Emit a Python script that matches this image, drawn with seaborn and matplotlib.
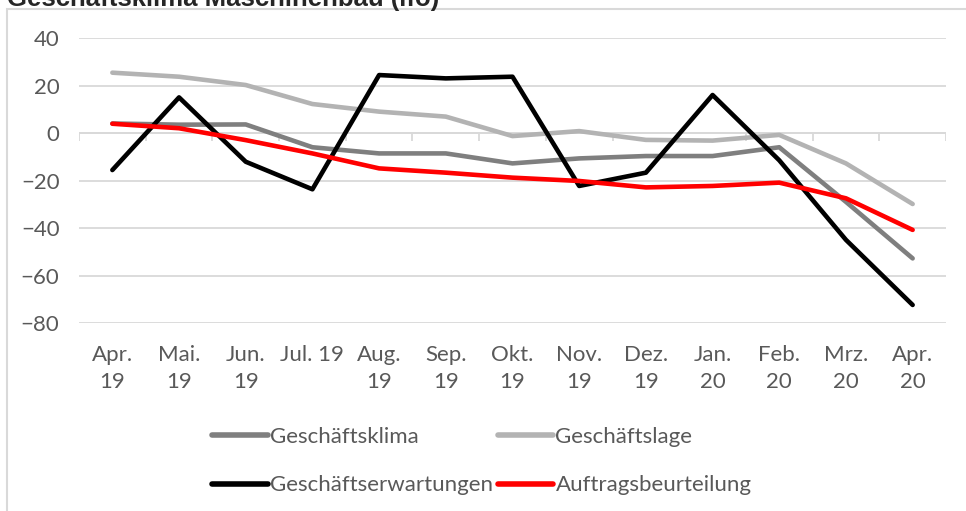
import matplotlib
matplotlib.use("Agg")
import matplotlib.pyplot as plt
import seaborn as sns
import pandas as pd
import numpy as np
from matplotlib.patches import Rectangle
from matplotlib.lines import Line2D

categories = ["Apr.\n19", "Mai.\n19", "Jun.\n19", "Jul. 19", "Aug.\n19", "Sep.\n19", "Okt.\n19",
              "Nov.\n19", "Dez.\n19", "Jan.\n20", "Feb.\n20", "Mrz.\n20", "Apr.\n20"]
klima = [4.0, 3.5, 3.6, -6.0, -8.6, -8.6, -12.8, -10.7, -9.7, -9.7, -6.0, -29.0, -52.8]
lage = [25.4, 23.7, 20.2, 12.2, 9.0, 6.9, -1.3, 0.8, -2.9, -3.2, -0.8, -12.8, -29.9]
erwartungen = [-15.6, 15.0, -12.1, -23.7, 24.4, 23.0, 23.7, -22.3, -16.7, 16.0, -11.5, -45.0, -72.4]
auftrag = [3.9, 2.0, -3.0, -8.6, -14.9, -16.7, -18.8, -20.2, -22.9, -22.3, -20.9, -27.5, -40.8]

series_names = ["Geschäftsklima", "Geschäftslage", "Geschäftserwartungen", "Auftragsbeurteilung"]
colors = {"Geschäftsklima": "#7f7f7f", "Geschäftslage": "#b3b3b3",
          "Geschäftserwartungen": "#000000", "Auftragsbeurteilung": "#ff0000"}

pos = np.arange(len(categories))
df = pd.DataFrame({"pos": pos, "Geschäftsklima": klima, "Geschäftslage": lage,
                   "Geschäftserwartungen": erwartungen, "Auftragsbeurteilung": auftrag})
long = df.melt(id_vars="pos", var_name="Reihe", value_name="Wert")

sns.set_style("white")
plt.rcParams["font.family"] = ["Lato", "DejaVu Sans"]

fig = plt.figure(figsize=(9.66, 5.11), dpi=100)
ax = fig.add_axes([79 / 966, 1 - 323 / 511, (946 - 79) / 966, (323 - 38) / 511])

sns.lineplot(data=long, x="pos", y="Wert", hue="Reihe", hue_order=series_names,
             palette=colors, linewidth=3.3, sort=False, ax=ax, legend=False,
             solid_capstyle="round", solid_joinstyle="round")

ax.set_xlim(-0.5, len(categories) - 0.5)
ax.set_ylim(-80, 40)
ax.set_yticks(np.arange(-80, 41, 20))
ax.set_xticks(pos)
ax.set_xticklabels(categories, linespacing=1.4)
ax.grid(axis="y", color="#d9d9d9", linewidth=1.3)
ax.grid(axis="x", visible=False)
ax.set_axisbelow(True)
for s in ax.spines.values():
    s.set_visible(False)
ax.tick_params(axis="both", length=0, labelsize=16, labelcolor="#595959")
ax.tick_params(axis="y", pad=14)
ax.tick_params(axis="x", pad=16)
ax.set_xlabel("")
ax.set_ylabel("")

# zero axis line with category boundary ticks
ax.axhline(0, color="#d9d9d9", linewidth=1.3, zorder=1)
bounds = np.arange(len(categories) + 1) - 0.5
ax.vlines(bounds, -3.2, 0, color="#d9d9d9", linewidth=1.3, zorder=1)

# chart area frame
fig.patches.append(Rectangle((7 / 966, -0.01), 1.0, 1 - 9 / 511 + 0.01, transform=fig.transFigure,
                             fill=False, edgecolor="#d9d9d9", linewidth=1.5))

fig.text(7 / 966, 1 - 6 / 511, "Geschäftsklima Maschinenbau (ifo)", fontsize=18.5,
         fontweight="bold", family=["Liberation Sans", "DejaVu Sans"], va="baseline", ha="left")

order = ["Geschäftsklima", "Geschäftserwartungen", "Geschäftslage", "Auftragsbeurteilung"]
handles = [Line2D([], [], color=colors[n], linewidth=4, solid_capstyle="round") for n in order]
fig.legend(handles, order, ncol=2, loc="center", bbox_to_anchor=(482 / 966, 1 - 461 / 511),
           frameon=False, fontsize=16, labelcolor="#595959", handlelength=2.5,
           handletextpad=0.1, columnspacing=0.2, labelspacing=1.3)

fig.savefig("out.png", dpi=100)
